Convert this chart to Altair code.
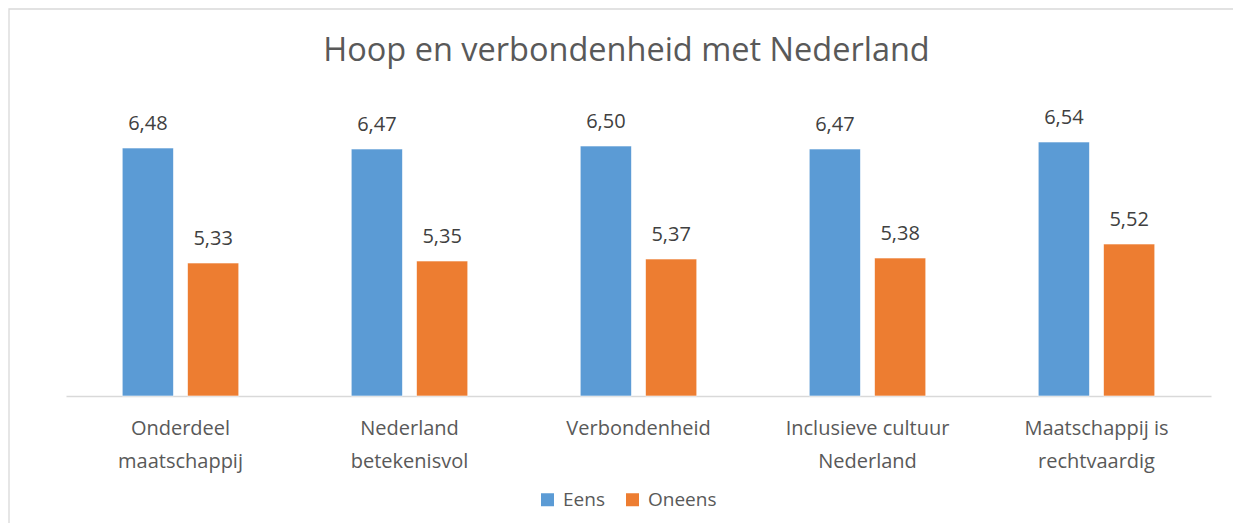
import altair as alt
import pandas as pd

categories = ["Onderdeel maatschappij", "Nederland betekenisvol", "Verbondenheid",
              "Inclusieve cultuur Nederland", "Maatschappij is rechtvaardig"]
label_lines = {
    "Onderdeel maatschappij": ["Onderdeel", "maatschappij"],
    "Nederland betekenisvol": ["Nederland", "betekenisvol"],
    "Verbondenheid": ["Verbondenheid"],
    "Inclusieve cultuur Nederland": ["Inclusieve cultuur", "Nederland"],
    "Maatschappij is rechtvaardig": ["Maatschappij is", "rechtvaardig"],
}
series = ["Eens", "Oneens"]
eens = [6.48, 6.47, 6.50, 6.47, 6.54]
oneens = [5.33, 5.35, 5.37, 5.38, 5.52]
colors = ["#5B9BD5", "#ED7D31"]

rows = []
for c, a, b in zip(categories, eens, oneens):
    rows.append({"cat": c, "group": "Eens", "value": a})
    rows.append({"cat": c, "group": "Oneens", "value": b})
df = pd.DataFrame(rows)

FONT = "Open Sans"
GREY = "#595959"
W, H = 1145, 300

label_expr = "{" + ",".join(
    "'" + k + "':[" + ",".join("'" + s + "'" for s in v) + "]" for k, v in label_lines.items()
) + "}[datum.value]"

x = alt.X("cat:N", sort=categories, title=None,
          scale=alt.Scale(paddingInner=0, paddingOuter=0),
          axis=alt.Axis(labelAngle=0, ticks=False, domainColor="#D9D9D9", domainWidth=1.3,
                        labelFont=FONT, labelFontSize=20, labelColor=GREY,
                        labelPadding=22, labelLineHeight=33, labelExpr=label_expr, grid=False))
xo = alt.XOffset("group:N", sort=series,
                 scale=alt.Scale(paddingInner=0.215, paddingOuter=0.862))
y = alt.Y("value:Q", scale=alt.Scale(domain=[4, 7], zero=False), axis=None)

base = alt.Chart(df)

bars = base.mark_bar(stroke="white", strokeWidth=0.6).encode(
    x=x, xOffset=xo, y=y, y2=alt.datum(4),
    color=alt.Color("group:N", sort=series,
                    scale=alt.Scale(domain=series, range=colors),
                    legend=alt.Legend(title=None, orient="none", direction="horizontal",
                                      legendX=472, legendY=394,
                                      symbolType="square", symbolSize=169,
                                      symbolStrokeWidth=0, labelFont=FONT,
                                      labelFontSize=19, labelColor=GREY,
                                      labelOffset=6, columnPadding=18)),
)

labels = base.transform_calculate(
    lbl="replace(format(datum.value, '.2f'), '.', ',')"
).mark_text(font=FONT, fontSize=20, color="#404040", baseline="alphabetic", dy=-18).encode(
    x=x, xOffset=xo, y=y, text="lbl:N"
)

frame = alt.Chart(alt.Data(values=[{}])).mark_rect(
    fill=None, stroke="#D9D9D9", strokeWidth=1.3
).encode(
    x=alt.value(-57), x2=alt.value(W + 200),
    y=alt.value(-87), y2=alt.value(H + 300),
)

chart = alt.layer(frame, bars, labels).properties(
    width=W, height=H,
    background="white",
    title=alt.TitleParams("Hoop en verbondenheid met Nederland", font=FONT, fontSize=32.5,
                          fontWeight="normal", color=GREY, anchor="middle",
                          offset=-59, dx=-12),
    autosize=alt.AutoSizeParams(type="none"),
    padding={"left": 58, "top": 88, "right": 22, "bottom": 127},
).configure_view(stroke=None)

chart.save("out.html", embed_options={"renderer": "svg", "actions": False})
